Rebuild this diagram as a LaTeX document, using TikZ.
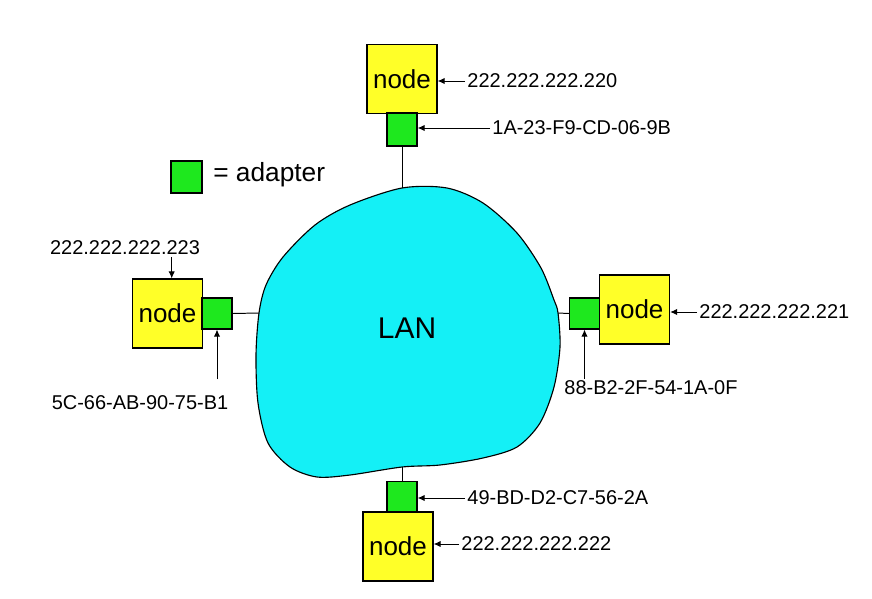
\documentclass[tikz,border=0pt]{standalone}
\usepackage{fontspec}
\setmainfont{Liberation Sans}
\usetikzlibrary{arrows.meta}
\definecolor{hostyellow}{RGB}{255,255,40}
\definecolor{adaptgreen}{RGB}{30,232,30}
\definecolor{lancyan}{RGB}{20,240,246}
\tikzset{
  host/.style={draw, fill=hostyellow, line width=0.9pt, minimum width=1.75cm, minimum height=1.72cm,
    inner sep=0pt, font=\fontsize{18.5}{20}\selectfont},
  adapt/.style={draw, fill=adaptgreen, line width=0.9pt, minimum width=0.75cm, minimum height=0.77cm, inner sep=0pt},
  addr/.style={inner sep=1.5pt, font=\fontsize{14.2}{16}\selectfont},
  arr/.style={-{Latex[length=5pt,width=4.5pt]}, line width=0.7pt},
  wire/.style={line width=0.7pt}
}
\begin{document}
\begin{tikzpicture}[x=0.025cm, y=-0.025cm]
	\useasboundingbox (0,0) rectangle (872,598);

	\draw[fill=lancyan, line width=0.8pt] plot[smooth cycle, tension=0.5] coordinates {
		(402,188) (447,188) (483,203) (517,233) (541,268) (554,300) (558,313)
		(560,347) (554,387) (540,423) (517,447) (483,458) (440,465) (402,467)
		(350,475) (317,477) (290,467) (268,443) (258,403) (256,355) (259,313)
		(266,285) (283,257) (315,225) (350,205)};
	\node (lan) at (407,328) {\fontsize{21.3}{24}\selectfont LAN};
	\coordinate (lanT) at (402,188);
	\coordinate (lanL) at (259,313);
	\coordinate (lanR) at (558,313);
	\coordinate (lanB) at (402,467);

	\node[adapt, minimum width=0.775cm, minimum height=0.8cm] (key) at (186.5,177) {};
	\node[anchor=west, inner sep=0pt, font=\fontsize{18.7}{20}\selectfont] (keytext) at (213,175) {= adapter};

	% top
	\node[host] (hostT) at (402,79) {node};
	\node[adapt, minimum height=0.82cm] (adT) at (402,129.5) {};
	\draw[wire] (adT.south) -- (lanT);
	\node[addr, anchor=west] (ipT) at (465,81) {222.222.222.220};
	\node[addr, anchor=west] (macT) at (490,128) {1A-23-F9-CD-06-9B};
	\draw[arr] (ipT.west) -- (hostT.east |- ipT.west);
	\draw[arr] (macT.west) -- (adT.east |- macT.west);

	% right
	\node[host] (hostR) at (634.5,309.5) {node};
	\node[adapt] (adR) at (584.5,313.5) {};
	\draw[wire] (lanR) -- (adR.west);
	\node[addr, anchor=west] (ipR) at (697,312) {222.222.222.221};
	\node[addr, anchor=west] (macR) at (562,388) {88-B2-2F-54-1A-0F};
	\draw[arr] (ipR.west) -- (hostR.east |- ipR.west);
	\draw[arr] (adR.south |- macR.north) -- (adR.south);

	% bottom
	\node[adapt] (adB) at (402,497) {};
	\node[host] (hostB) at (398,546.5) {node};
	\draw[wire] (adB.north) -- (lanB);
	\node[addr, anchor=west] (macB) at (465,498) {49-BD-D2-C7-56-2A};
	\node[addr, anchor=west] (ipB) at (459,544) {222.222.222.222};
	\draw[arr] (macB.west) -- (adB.east |- macB.west);
	\draw[arr] (ipB.west) -- (hostB.east |- ipB.west);

	% left
	\node[host] (hostL) at (167.5,313.5) {node};
	\node[adapt] (adL) at (217,313.5) {};
	\draw[wire] (adL.east) -- (lanL);
	\node[addr] (ipL) at (125,248) {222.222.222.223};
	\node[addr] (macL) at (140,403) {5C-66-AB-90-75-B1};
	\draw[arr] ([xshift=3pt]hostL.north |- ipL.south) -- ([xshift=3pt]hostL.north);
	\draw[arr] ([yshift=10pt]adL.south |- macL.north) -- (adL.south);
\end{tikzpicture}
\end{document}
